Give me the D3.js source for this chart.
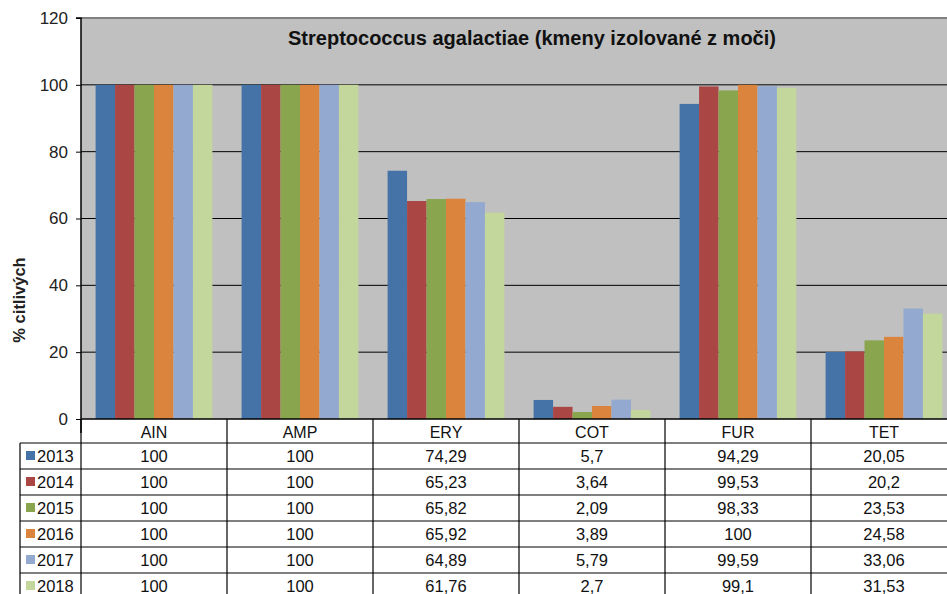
<!DOCTYPE html>
<html><head><meta charset="utf-8">
<script src="https://cdn.jsdelivr.net/npm/d3@7"></script>
<style>body{margin:0;background:#fff}svg{display:block;font-family:"Liberation Sans",Arial,sans-serif}</style>
</head><body><svg id="c" width="947" height="594"></svg>
<script>
const categories = ["AIN","AMP","ERY","COT","FUR","TET"];
const years = ["2013","2014","2015","2016","2017","2018"];
const v2013 = [100,100,74.29,5.7,94.29,20.05];
const v2014 = [100,100,65.23,3.64,99.53,20.2];
const v2015 = [100,100,65.82,2.09,98.33,23.53];
const v2016 = [100,100,65.92,3.89,100,24.58];
const v2017 = [100,100,64.89,5.79,99.59,33.06];
const v2018 = [100,100,61.76,2.7,99.1,31.53];
const labels2013 = ["100","100","74,29","5,7","94,29","20,05"];
const labels2014 = ["100","100","65,23","3,64","99,53","20,2"];
const labels2015 = ["100","100","65,82","2,09","98,33","23,53"];
const labels2016 = ["100","100","65,92","3,89","100","24,58"];
const labels2017 = ["100","100","64,89","5,79","99,59","33,06"];
const labels2018 = ["100","100","61,76","2,7","99,1","31,53"];
const yTicks = [0,20,40,60,80,100,120];
const colors = ["#4572A7","#AA4643","#89A54E","#DB843D","#93A9CF","#C3D69B"];

const series = [v2013,v2014,v2015,v2016,v2017,v2018];
const labels = [labels2013,labels2014,labels2015,labels2016,labels2017,labels2018];

const svg = d3.select("#c");
const L = 81, T = 18, B = 419, catW = 146;
const R = L + catW*categories.length;
const x0 = d3.scaleBand().domain(categories).range([L,R]).padding(0);
const gap = catW*1.5/7.5;
const x1 = d3.scaleBand().domain(years).range([gap/2, catW-gap/2]).padding(0);
const y = d3.scaleLinear().domain([0,120]).range([B,T]);

// plot background
svg.append("rect").attr("x",L).attr("y",T).attr("width",R-L).attr("height",B-T).attr("fill","#C0C0C0");
// gridlines
svg.append("g").selectAll("line").data(yTicks.filter(t=>t>0 && t<120)).join("line")
  .attr("x1",L).attr("x2",R).attr("y1",d=>y(d)).attr("y2",d=>y(d))
  .attr("stroke","#000").attr("stroke-width",1);
svg.append("line").attr("x1",L).attr("x2",R).attr("y1",T).attr("y2",T).attr("stroke","#808080").attr("stroke-width",2);

// bars
const g = svg.append("g");
categories.forEach((c,ci)=>{
  years.forEach((yr,si)=>{
    const v = series[si][ci];
    g.append("rect").attr("x",x0(c)+x1(yr)).attr("width",x1.bandwidth())
      .attr("y",y(v)).attr("height",B-y(v)).attr("fill",colors[si]);
  });
});

// y axis
const ya = svg.append("g").attr("transform",`translate(${L},0)`)
  .call(d3.axisLeft(y).tickValues(yTicks).tickSize(5).tickPadding(8));
ya.select(".domain").attr("stroke","#000").attr("stroke-width",1.5).attr("d",`M-5,${T}H0V${B+14}`);
ya.selectAll(".tick line").attr("stroke","#000");
ya.selectAll("text").attr("font-size",17).attr("fill","#222").attr("font-family","Liberation Sans, Arial, sans-serif");

// y label
svg.append("text").attr("transform","translate(25,300) rotate(-90)").attr("text-anchor","middle")
  .attr("font-size",16.5).attr("font-weight","bold").attr("fill","#222").text("% citlivých");

// title
svg.append("text").attr("x",532).attr("y",45).attr("text-anchor","middle")
  .attr("font-size",20).attr("font-weight","bold").attr("fill","#111")
  .text("Streptococcus agalactiae (kmeny izolované z moči)");

// data table
const hdrTop = 419, hdrBot = 443, rowH = 26;
const rowsY = years.map((d,i)=>hdrBot + i*rowH);
const tg = svg.append("g");
categories.forEach(c=>{
  tg.append("text").attr("x",x0(c)+catW/2).attr("y",hdrBot-5).attr("text-anchor","middle")
    .attr("font-size",16).attr("fill","#111").text(c);
});
years.forEach((yr,si)=>{
  const ry = rowsY[si];
  tg.append("rect").attr("x",26).attr("y",ry+rowH/2-5).attr("width",9).attr("height",9).attr("fill",colors[si]);
  tg.append("text").attr("x",37).attr("y",ry+rowH/2+6).attr("font-size",16.5).attr("fill","#111").text(yr);
  categories.forEach((c,ci)=>{
    tg.append("text").attr("x",x0(c)+catW/2).attr("y",ry+rowH/2+6).attr("text-anchor","middle")
      .attr("font-size",16.5).attr("fill","#111").text(labels[si][ci]);
  });
});
const tableBottom = hdrBot + rowH*years.length;
tg.append("line").attr("x1",L).attr("x2",R).attr("y1",hdrTop).attr("y2",hdrTop).attr("stroke","#000").attr("stroke-width",1.5);
years.concat(["end"]).forEach((d,i)=>{
  const yy = hdrBot + i*rowH;
  tg.append("line").attr("x1",20).attr("x2",R).attr("y1",yy).attr("y2",yy).attr("stroke","#000").attr("stroke-width",1.2);
});
tg.append("line").attr("x1",20).attr("x2",20).attr("y1",hdrBot).attr("y2",tableBottom).attr("stroke","#000").attr("stroke-width",1.2);
categories.forEach(c=>{
  tg.append("line").attr("x1",x0(c)).attr("x2",x0(c)).attr("y1",hdrTop).attr("y2",tableBottom).attr("stroke","#000").attr("stroke-width",1.2);
});
</script></body></html>
